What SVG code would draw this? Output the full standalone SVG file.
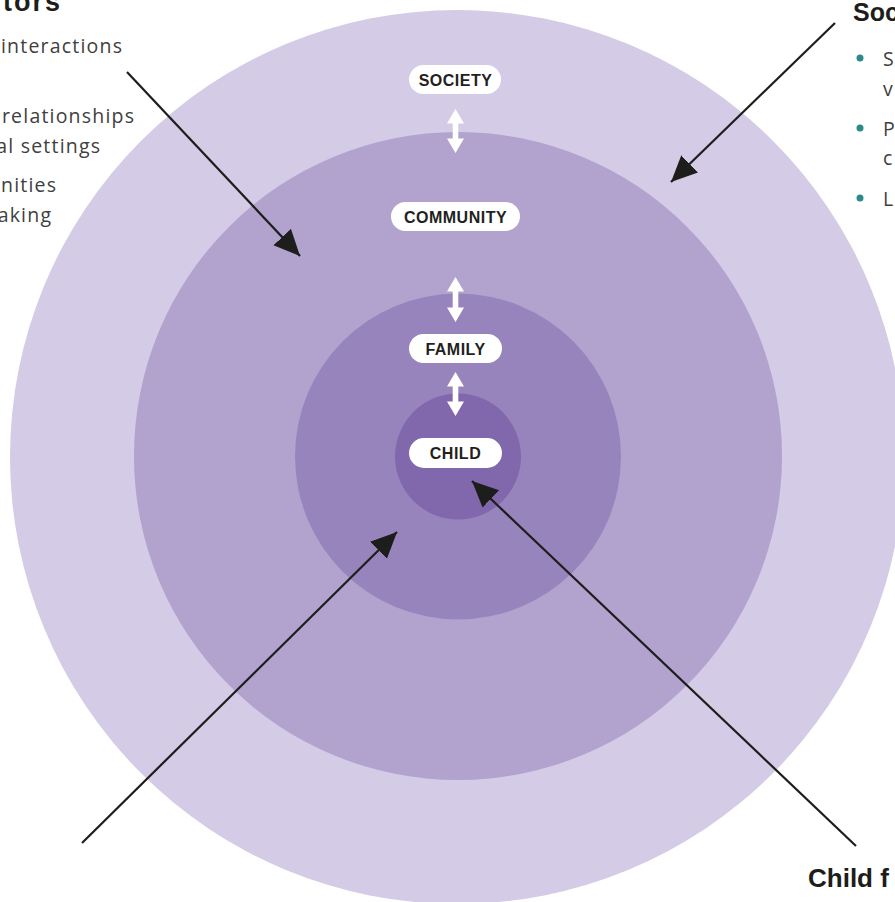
<svg xmlns="http://www.w3.org/2000/svg" width="895" height="902" viewBox="0 0 895 902">
<style>
.pill{fill:#ffffff}
.lbl{font-family:"Liberation Sans",Arial,sans-serif;font-weight:bold;font-size:16px;fill:#231f20;text-anchor:middle;letter-spacing:0.5px}
.dbl{fill:#ffffff}
.head{font-family:"Liberation Sans",Arial,sans-serif;font-weight:bold;fill:#1d1d1b}
.body{font-family:"Open Sans","Liberation Sans",sans-serif;font-weight:400;font-size:19.5px;fill:#404040}
.sp{letter-spacing:1.2px}
.con{stroke:#1d1d1b;stroke-width:2.2;fill:none;marker-end:url(#ah)}
.bul{fill:#2a8a8c}
</style>
<defs>
<marker id="ah" markerUnits="userSpaceOnUse" markerWidth="28" markerHeight="26" refX="26" refY="12" orient="auto">
<path d="M0,0 L26,12 L0,24 Z" fill="#1d1d1b"/>
</marker>
</defs>
<rect width="895" height="902" fill="#ffffff"/>
<g id="rings">
<circle cx="457" cy="457" r="447" fill="#d4cbe6"/>
<circle cx="458" cy="456" r="324" fill="#b2a2ce"/>
<circle cx="458" cy="456.5" r="163" fill="#9884bc"/>
<circle cx="458" cy="456.5" r="63" fill="#8167ab"/>
</g>
<g id="links">
<path class="dbl" d="M455.5,109 L464,123.5 L458.3,123.5 L458.3,138.5 L464,138.5 L455.5,153 L447,138.5 L452.7,138.5 L452.7,123.5 L447,123.5 Z"/>
<path class="dbl" d="M455.5,277 L464,291.5 L458.3,291.5 L458.3,307.5 L464,307.5 L455.5,322 L447,307.5 L452.7,307.5 L452.7,291.5 L447,291.5 Z"/>
<path class="dbl" d="M455.5,372 L464,386.5 L458.3,386.5 L458.3,401.5 L464,401.5 L455.5,416 L447,401.5 L452.7,401.5 L452.7,386.5 L447,386.5 Z"/>
</g>
<g id="society">
<rect class="pill" x="409" y="65" width="92" height="29" rx="14.5"/>
<text class="lbl" x="455.5" y="85.5">SOCIETY</text>
</g>
<g id="community">
<rect class="pill" x="391" y="202" width="129" height="29" rx="14.5"/>
<text class="lbl" x="455.5" y="222.5">COMMUNITY</text>
</g>
<g id="family">
<rect class="pill" x="409" y="334" width="93" height="29" rx="14.5"/>
<text class="lbl" x="455.5" y="354.5">FAMILY</text>
</g>
<g id="child">
<rect class="pill" x="409" y="438" width="93" height="30" rx="15"/>
<text class="lbl" x="455.5" y="459">CHILD</text>
</g>
<g id="connectors">
<line class="con" x1="127" y1="72" x2="300" y2="256"/>
<line class="con" x1="835" y1="23" x2="671" y2="182"/>
<line class="con" x1="82" y1="843" x2="397" y2="532"/>
<line class="con" x1="856" y1="846" x2="472" y2="481"/>
</g>
<g id="left-text">
<text class="head" x="62" y="11" font-size="27" letter-spacing="2" text-anchor="end">tors</text>
<text class="body sp" x="123.2" y="53" text-anchor="end">interactions</text>
<text class="body sp" x="135.2" y="123" text-anchor="end">relationships</text>
<text class="body sp" x="101.2" y="153" text-anchor="end">al settings</text>
<text class="body sp" x="57.2" y="192" text-anchor="end">nities</text>
<text class="body sp" x="52.2" y="222" text-anchor="end">aking</text>
</g>
<g id="right-text">
<text class="head" x="853" y="21" font-size="25">Soc</text>
<circle class="bul" cx="860" cy="58" r="3.5"/>
<circle class="bul" cx="860" cy="128" r="3.5"/>
<circle class="bul" cx="860" cy="198" r="3.5"/>
<text class="body" x="883" y="66">S</text>
<text class="body" x="883" y="96">v</text>
<text class="body" x="883" y="136">P</text>
<text class="body" x="883" y="165">c</text>
<text class="body" x="883" y="206">L</text>
</g>
<g id="bottom-text">
<text class="head" x="808" y="887" font-size="26">Child f</text>
</g>
</svg>
